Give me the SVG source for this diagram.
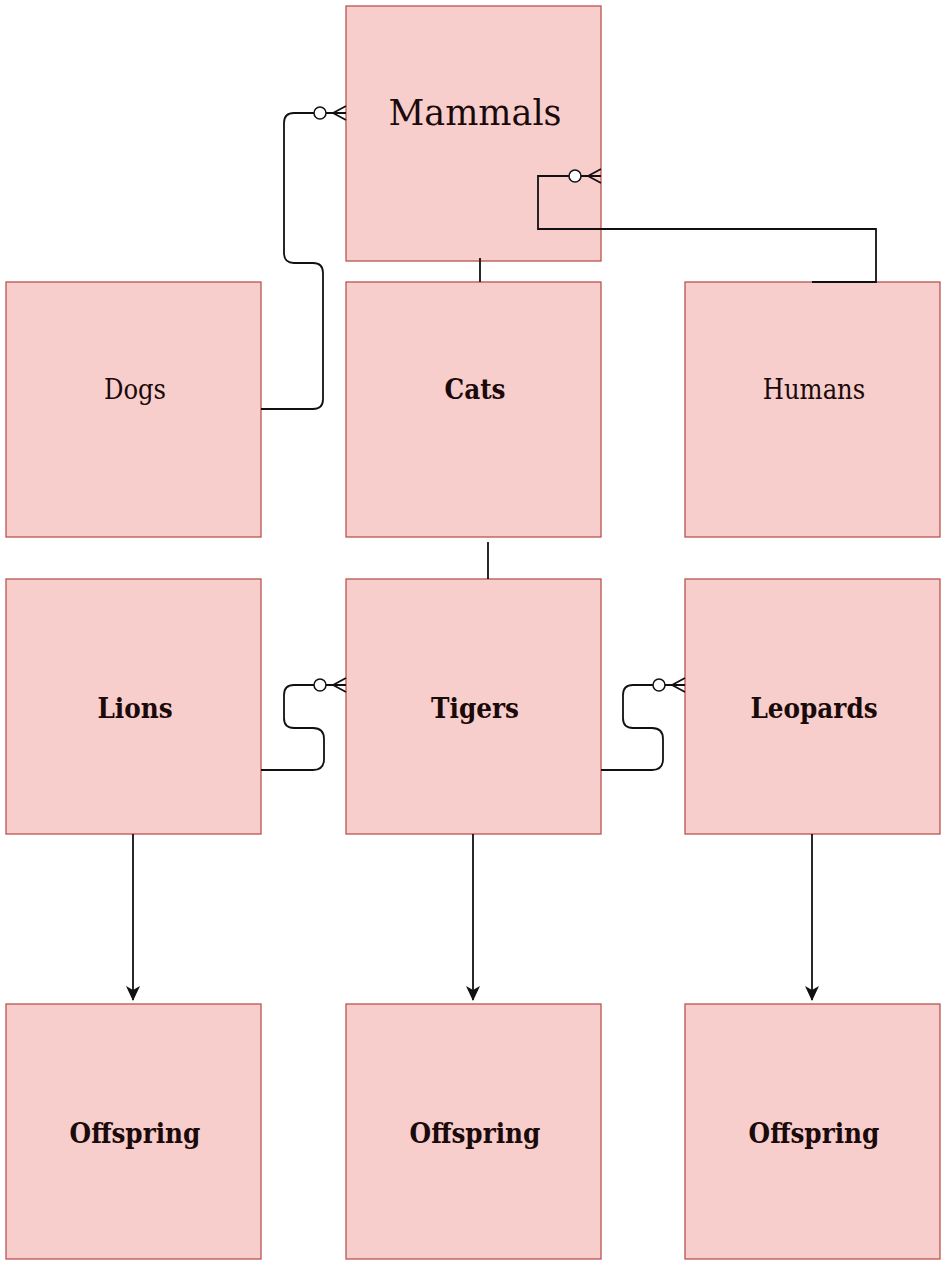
<svg xmlns="http://www.w3.org/2000/svg" width="943" height="1265" viewBox="0 0 943 1265">
<style>
.box{fill:#f8cecc;stroke:#b85450;stroke-width:1.3}
.lbl{font-family:"DejaVu Serif Condensed","DejaVu Serif",serif;font-size:27px;fill:#1a0a0a;text-anchor:middle;dominant-baseline:central}
.b{font-weight:bold;font-size:27.5px}
.big{font-family:"DejaVu Serif",serif;font-size:35px}
.c{fill:none;stroke:#111;stroke-width:1.8}
.ci{fill:#fff;stroke:#111;stroke-width:1.5}
</style>
<defs>
<marker id="arr" markerWidth="16" markerHeight="16" refX="14" refY="8" orient="auto" markerUnits="userSpaceOnUse">
<path d="M0,1 L15,8 L0,15 L4,8 Z" fill="#111"/>
</marker>
</defs>
<rect width="943" height="1265" fill="#fff"/>
<g id="mammals"><rect class="box" x="346" y="6" width="255" height="255"/><text class="lbl big" x="475" y="113">Mammals</text></g>
<g id="dogs"><rect class="box" x="6" y="282" width="255" height="255"/><text class="lbl" x="135" y="389">Dogs</text></g>
<g id="cats"><rect class="box" x="346" y="282" width="255" height="255"/><text class="lbl b" x="475" y="389">Cats</text></g>
<g id="humans"><rect class="box" x="685" y="282" width="255" height="255"/><text class="lbl" x="814" y="389">Humans</text></g>
<g id="lions"><rect class="box" x="6" y="579" width="255" height="255"/><text class="lbl b" x="135" y="708">Lions</text></g>
<g id="tigers"><rect class="box" x="346" y="579" width="255" height="255"/><text class="lbl b" x="475" y="708">Tigers</text></g>
<g id="leopards"><rect class="box" x="685" y="579" width="255" height="255"/><text class="lbl b" x="814" y="708">Leopards</text></g>
<g id="offspring1"><rect class="box" x="6" y="1004" width="255" height="255"/><text class="lbl b" x="135" y="1133">Offspring</text></g>
<g id="offspring2"><rect class="box" x="346" y="1004" width="255" height="255"/><text class="lbl b" x="475" y="1133">Offspring</text></g>
<g id="offspring3"><rect class="box" x="685" y="1004" width="255" height="255"/><text class="lbl b" x="814" y="1133">Offspring</text></g>
<g id="connectors">
<path class="c" d="M261,409 H313 Q323,409 323,399 V273 Q323,263 313,263 H294 Q284,263 284,253 V123 Q284,113 294,113 H346"/>
<path class="c" d="M333,113 L346,106 M333,113 L346,113 M333,113 L346,120"/>
<circle class="ci" cx="320" cy="113" r="6"/>
<path class="c" d="M812,282 H876 V229 H538 V176 H601"/>
<path class="c" d="M588,176 L601,169 M588,176 L601,176 M588,176 L601,183"/>
<circle class="ci" cx="575" cy="176" r="6"/>
<path class="c" d="M480,258 V282"/>
<path class="c" d="M488,542 V579"/>
<path class="c" d="M261,770 H313 Q324,770 324,759 V739 Q324,728 313,728 H294 Q284,728 284,718 V695 Q284,685 294,685 H346"/>
<path class="c" d="M333,685 L346,678 M333,685 L346,685 M333,685 L346,692"/>
<circle class="ci" cx="320" cy="685" r="6"/>
<path class="c" d="M601,770 H652 Q663,770 663,759 V739 Q663,728 652,728 H633 Q623,728 623,718 V695 Q623,685 633,685 H685"/>
<path class="c" d="M672,685 L685,678 M672,685 L685,685 M672,685 L685,692"/>
<circle class="ci" cx="659" cy="685" r="6"/>
<path class="c" d="M133,834 V1000" marker-end="url(#arr)"/>
<path class="c" d="M473,834 V1000" marker-end="url(#arr)"/>
<path class="c" d="M812,834 V1000" marker-end="url(#arr)"/>
</g>
</svg>
